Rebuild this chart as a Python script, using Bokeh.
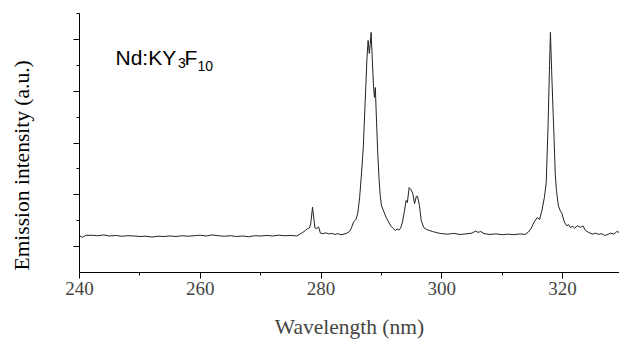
from bokeh.plotting import figure
from bokeh.models import Range1d, FixedTicker, Label, Title, LinearAxis
from bokeh.embed import file_html
from bokeh.resources import INLINE

# ---- data ----
wavelength = [
    240, 240.5, 241, 242, 243, 244, 245, 246, 247, 248, 249, 250, 251, 252, 253, 254, 255,
    256, 257, 258, 259, 260, 261, 262, 263, 264, 265, 266, 267, 268, 269, 270, 271, 272,
    273, 274, 275, 276, 276.5, 277.0, 277.4, 277.8, 278.1, 278.3, 278.6, 278.8, 279.0,
    279.3, 279.6, 279.9, 280.3, 280.8, 281.3, 281.8, 282.3, 282.8, 283.3, 283.8, 284.3,
    284.7, 285.0, 285.4, 285.8, 286.1, 286.4, 286.7, 287.0, 287.3, 287.6, 287.8, 288.0,
    288.15, 288.3, 288.5, 288.7, 288.85, 289.0, 289.2, 289.4, 289.6, 289.8, 290.0, 290.4,
    290.8, 291.2, 291.6, 292.0, 292.3, 292.6, 292.9, 293.2, 293.5, 293.8, 294.1, 294.3,
    294.6, 294.9, 295.2, 295.5, 295.8, 296.0, 296.3, 296.6, 297.0, 297.5, 298.0, 298.5,
    299.0, 299.5, 300, 301, 302, 303, 304, 305, 305.6, 306, 306.5, 307, 308, 309, 310,
    311, 312, 313, 313.8, 314.3, 314.8, 315.3, 315.8, 316.2, 316.6, 317.0, 317.3, 317.6,
    317.85, 318.0, 318.2, 318.45, 318.6, 318.8, 319.0, 319.3, 319.6, 319.9, 320.3, 320.7,
    321.0, 321.3, 321.7, 322.0, 322.5, 323.0, 323.4, 323.8, 324.3, 325, 325.5, 326, 326.5,
    327, 327.5, 328, 328.5, 329, 329.4,
]
intensity = [
    1.42, 1.36, 1.43, 1.44, 1.42, 1.45, 1.41, 1.43, 1.40, 1.42, 1.41, 1.39, 1.40, 1.37, 1.40, 1.39, 1.41,
    1.39, 1.42, 1.40, 1.42, 1.44, 1.41, 1.45, 1.42, 1.40, 1.42, 1.39, 1.41, 1.38, 1.42, 1.41, 1.43, 1.41,
    1.44, 1.42, 1.43, 1.41, 1.48, 1.55, 1.62, 1.70, 1.72, 1.90, 2.52, 2.10, 1.72,
    1.70, 1.76, 1.52, 1.50, 1.53, 1.49, 1.51, 1.47, 1.50, 1.46, 1.48, 1.52,
    1.58, 1.70, 1.95, 2.05, 2.30, 2.90, 3.80, 4.80, 6.50, 8.20, 8.96, 8.46,
    8.80, 9.27, 8.20, 7.20, 6.76, 7.14, 5.80, 4.60, 3.67, 3.00, 2.60, 2.35,
    2.12, 1.95, 1.78, 1.70, 1.62, 1.68, 1.64, 1.72, 1.95, 2.35, 2.78, 2.70,
    3.28, 3.20, 3.05, 2.66, 2.95, 2.93, 2.59, 2.01, 1.74, 1.66, 1.62, 1.58,
    1.55, 1.52, 1.50, 1.48, 1.51, 1.47, 1.49, 1.52, 1.60, 1.55, 1.58, 1.50, 1.47, 1.49, 1.46,
    1.48, 1.46, 1.49, 1.47, 1.55, 1.70, 1.95, 2.12, 2.05, 2.40, 2.90, 3.47, 5.60,
    8.00, 9.27, 7.80, 6.14, 5.20, 3.80, 3.17, 2.60, 2.40, 2.28, 1.95, 1.80,
    1.85, 1.74, 1.78, 1.72, 1.80, 1.74, 1.80, 1.62, 1.55, 1.48, 1.52, 1.47, 1.50,
    1.43, 1.47, 1.52, 1.48, 1.58, 1.55,
]

x_ticks = [240, 260, 280, 300, 320]
x_minor = [250, 270, 290, 310]
y_ticks = [1, 3, 5, 7, 9]
y_minor = [2, 4, 6, 8, 10]

SERIF = "Liberation Serif"
SANS = "Liberation Sans"

p = figure(width=619, height=341, output_backend="svg", toolbar_location=None,
           x_range=Range1d(240, 329.44), y_range=Range1d(0, 10),
           min_border_left=79, min_border_right=0, min_border_top=13, min_border_bottom=69)
p.outline_line_color = None
p.xgrid.visible = False
p.ygrid.visible = False
p.background_fill_color = "white"
p.border_fill_color = "white"

p.line(wavelength, intensity, line_color="#222222", line_width=1)

# x axis
xa = p.xaxis[0]
xa.ticker = FixedTicker(ticks=x_ticks, minor_ticks=x_minor)
xa.axis_label = "Wavelength (nm)"
xa.axis_label_text_font = SERIF
xa.axis_label_text_font_style = "normal"
xa.axis_label_text_font_size = "21.5px"
xa.axis_label_standoff = 17
xa.major_label_text_font = SERIF
xa.major_label_text_font_size = "19px"
xa.major_label_standoff = 3
xa.major_tick_in = 0
xa.major_tick_out = 6
xa.minor_tick_in = 0
xa.minor_tick_out = 3
xa.axis_line_color = "black"
xa.major_tick_line_color = "black"
xa.minor_tick_line_color = "black"

# y axis (ticks without labels)
ya = p.yaxis[0]
ya.ticker = FixedTicker(ticks=y_ticks, minor_ticks=y_minor)
ya.major_label_overrides = {t: "" for t in y_ticks}
ya.major_tick_in = 0
ya.major_tick_out = 6
ya.minor_tick_in = 0
ya.minor_tick_out = 3
ya.axis_line_color = "black"
ya.major_tick_line_color = "black"
ya.minor_tick_line_color = "black"

# invisible spacer axis: reserves room between the axis and its title
spacer = LinearAxis(ticker=FixedTicker(ticks=[5], minor_ticks=[]),
                    major_tick_in=0, major_tick_out=40, minor_tick_out=0,
                    axis_line_alpha=0, major_tick_line_alpha=0,
                    major_label_overrides={5: ""})
p.add_layout(spacer, "left")

# y axis title as a side title (allows shifting along the axis)
p.add_layout(Title(text="Emission intensity (a.u.)", align="left", offset=2,
                   standoff=0, vertical_align="bottom", text_font=SERIF,
                   text_font_size="21.5px", text_font_style="normal",
                   text_color="black"), "left")

# Sample name Nd:KY3F10
p.add_layout(Label(x=245.96, y=8.31, text="Nd:KY", text_font=SANS, text_font_size="21px",
                   text_baseline="alphabetic", text_align="left", text_color="black"))
p.add_layout(Label(x=256.31, y=8.07, text="3", text_font=SANS, text_font_size="14px",
                   text_baseline="alphabetic", text_align="left", text_color="black"))
p.add_layout(Label(x=257.39, y=8.31, text="F", text_font=SANS, text_font_size="21px",
                   text_baseline="alphabetic", text_align="left", text_color="black"))
p.add_layout(Label(x=259.54, y=7.99, text="10", text_font=SANS, text_font_size="14px",
                   text_baseline="alphabetic", text_align="left", text_color="black"))

open("out.html", "w").write(file_html(p, INLINE))
